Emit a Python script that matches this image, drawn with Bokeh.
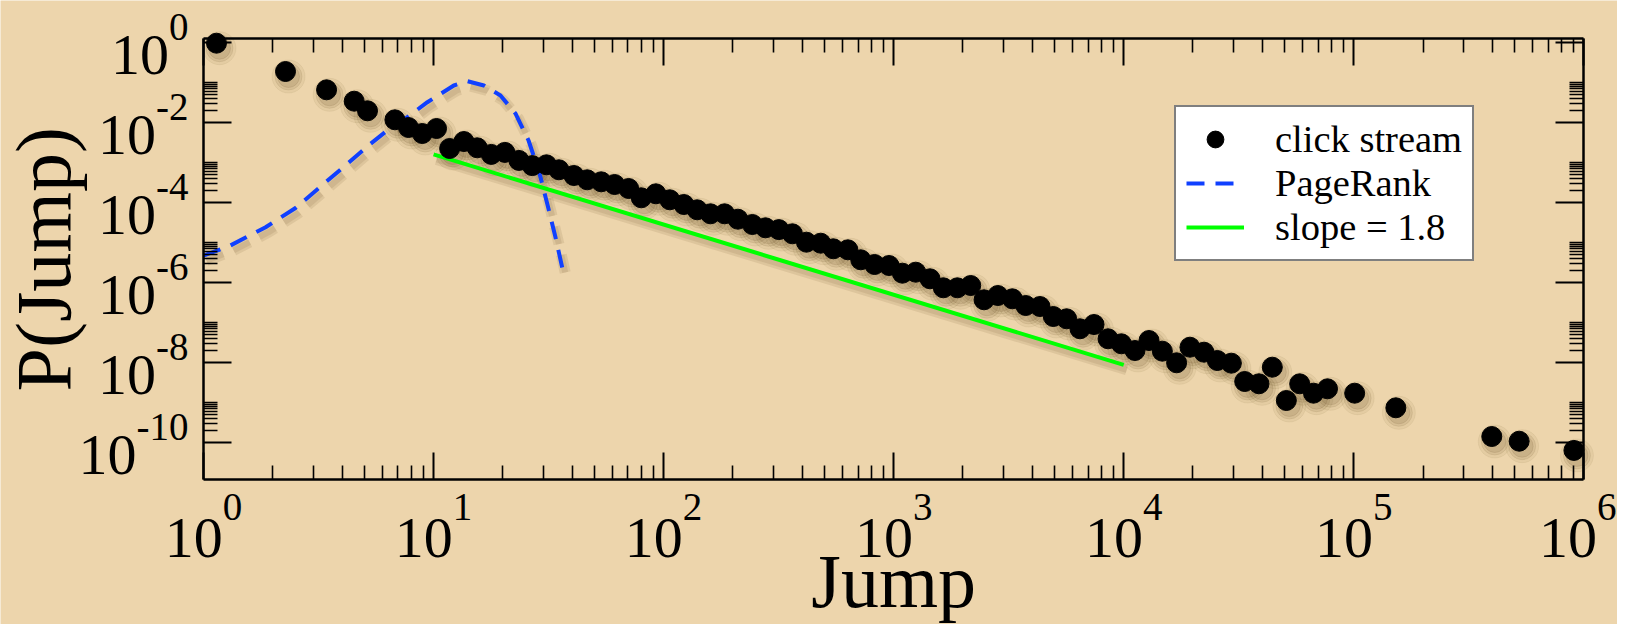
import numpy as np
from bokeh.plotting import figure
from bokeh.models import (FixedTicker, LogAxis, Label, Legend, LegendItem,
                          CustomJSTickFormatter, Range1d)
from bokeh.embed import file_html
from bokeh.resources import INLINE

# ---------------- data (log10 units) ----------------
click_log_jump = [0.0565, 0.3565, 0.535, 0.655, 0.713, 0.832, 0.891, 0.951, 1.013, 1.070,
                  1.132, 1.19, 1.251, 1.31, 1.371, 1.429, 1.491, 1.545, 1.61, 1.668,
                  1.729, 1.787, 1.848, 1.903, 1.9665, 2.027, 2.088, 2.146, 2.204, 2.265,
                  2.323, 2.386, 2.443, 2.501, 2.56, 2.621, 2.683, 2.738, 2.801, 2.857,
                  2.917, 2.98, 3.038, 3.096, 3.158, 3.216, 3.277, 3.335, 3.393, 3.453,
                  3.516, 3.574, 3.636, 3.694, 3.752, 3.81, 3.871, 3.932, 3.99, 4.049,
                  4.11, 4.168, 4.23, 4.288, 4.349, 4.407, 4.468, 4.526, 4.588, 4.646,
                  4.707, 4.765, 4.825, 4.886, 5.004, 5.183, 5.6, 5.719, 5.957]
click_log_prob = [-0.01, -0.7175, -1.175, -1.46, -1.70, -1.925, -2.1175, -2.2675, -2.1425, -2.6425,
                  -2.4675, -2.625, -2.79, -2.74, -2.94, -3.07, -3.05, -3.175, -3.3175, -3.425,
                  -3.475, -3.5425, -3.6425, -3.875, -3.775, -3.925, -4.0425, -4.175, -4.275, -4.275,
                  -4.41, -4.5425, -4.625, -4.67, -4.775, -4.985, -5.01, -5.15, -5.175, -5.425,
                  -5.5425, -5.5675, -5.76, -5.735, -5.9, -6.125, -6.125, -6.0675, -6.425, -6.3175,
                  -6.4, -6.5675, -6.5925, -6.8425, -6.9, -7.15, -7.0425, -7.4, -7.525, -7.6925,
                  -7.4425, -7.71, -8.0, -7.61, -7.735, -7.9425, -8.01, -8.4675, -8.525, -8.11,
                  -8.9425, -8.525, -8.76, -8.65, -8.76, -9.125, -9.8425, -9.96, -10.19]

pagerank_log_jump = [0.0, 0.116, 0.27, 0.40, 0.523, 0.625, 0.726, 0.799, 0.886, 0.973,
                     1.088, 1.147, 1.219, 1.291, 1.357, 1.413, 1.461, 1.498, 1.530, 1.567]
pagerank_log_prob = [-5.32, -5.07, -4.61, -4.13, -3.525, -3.025, -2.525, -2.19, -1.86, -1.485,
                     -1.0675, -0.96, -1.0675, -1.3175, -1.775, -2.4425, -3.275, -4.11, -4.86, -5.8175]

fit_jump = [10.0, 1.0e4]
fit_prob = [1.62e-3, 8.9e-9]

x_tick_exponents = [0, 1, 2, 3, 4, 5, 6]
y_tick_exponents = [0, -2, -4, -6, -8, -10]

legend_labels = ["click stream", "PageRank", "slope = 1.8"]
x_title = "Jump"
y_title = "P(Jump)"

# ---------------- styling / layout ----------------
BG = "#EDD5AC"
BLUE = "#1040FF"
GREEN = "#00FF00"
SHADOW = "#5a3d18"
DASH = "18 11"
FONT = "Liberation Serif"
BASE = 58      # "10" font size (px)
SUP = 39       # exponent font size (px)
MID = 0.3375   # label anchor sits at the middle of the text box: baseline shift in em

W, H = 1617, 624
BOX_L, BOX_R, BOX_T, BOX_B = 203.0, 1583.3, 38.3, 479.3   # plot box in pixels
XMIN_E, XMAX_E = 0.0, 6.0
YMIN_E, YMAX_E = -10.925, 0.1
XMIN, XMAX = 10 ** XMIN_E, 10 ** XMAX_E
YMIN, YMAX = 10 ** YMIN_E, 10 ** YMAX_E
xdec = (BOX_R - BOX_L) / (XMAX_E - XMIN_E)
ydec = (BOX_B - BOX_T) / (YMAX_E - YMIN_E)
x_range = Range1d(10 ** (XMIN_E - BOX_L / xdec), 10 ** (XMAX_E + (W - BOX_R) / xdec))
y_range = Range1d(10 ** (YMIN_E - (H - BOX_B) / ydec), 10 ** (YMAX_E + BOX_T / ydec))

click_jump = 10.0 ** np.array(click_log_jump)
click_prob = 10.0 ** np.array(click_log_prob)
pr_jump = 10.0 ** np.array(pagerank_log_jump)
pr_prob = 10.0 ** np.array(pagerank_log_prob)

p = figure(width=W, height=H, x_axis_type="log", y_axis_type="log",
           x_axis_location=None, y_axis_location=None,
           x_range=x_range, y_range=y_range,
           output_backend="svg", toolbar_location=None, min_border=0,
           background_fill_color=BG, border_fill_color=BG)
p.xgrid.visible = False
p.ygrid.visible = False
p.outline_line_color = None

x_major = [10.0 ** e for e in x_tick_exponents]
x_minor = [k * 10.0 ** e for e in x_tick_exponents[:-1] for k in range(2, 10)]
y_major = [10.0 ** e for e in y_tick_exponents]
y_minor = [k * 10.0 ** e for e in y_tick_exponents[1:] for k in range(2, 11)]


def make_axis(major, minor, loc, bounds, tick_in):
    ax = LogAxis(fixed_location=loc, bounds=bounds)
    ax.ticker = FixedTicker(ticks=major, minor_ticks=minor)
    ax.formatter = CustomJSTickFormatter(code="return ''")
    ax.axis_line_width = 2.5
    ax.axis_line_color = "black"
    ax.major_tick_in = tick_in
    ax.major_tick_out = 0
    ax.minor_tick_in = 14
    ax.minor_tick_out = 0
    ax.major_tick_line_width = 2
    ax.minor_tick_line_width = 1.6
    ax.major_tick_line_color = "black"
    ax.minor_tick_line_color = "black"
    ax.major_label_standoff = 0
    ax.major_label_text_font_size = "1px"
    return ax


p.add_layout(make_axis(x_major, x_minor, YMIN, (XMIN, XMAX), 27), "below")
p.add_layout(make_axis(x_major, x_minor, YMAX, (XMIN, XMAX), 27), "above")
p.add_layout(make_axis(y_major, y_minor, XMIN, (YMIN, YMAX), 28), "left")
p.add_layout(make_axis(y_major, y_minor, XMAX, (YMIN, YMAX), 28), "right")

# ---------------- soft shadows ----------------
sdx = 10 ** (3 / xdec)
sdy = 10 ** (-5 / ydec)
p.line(pr_jump * sdx, pr_prob * sdy, line_color=SHADOW, line_alpha=0.10, line_width=11,
       line_dash=DASH)
p.line(pr_jump * sdx, pr_prob * sdy, line_color=SHADOW, line_alpha=0.10, line_width=6,
       line_dash=DASH)
p.line(np.array(fit_jump) * sdx, np.array(fit_prob) * sdy, line_color=SHADOW,
       line_alpha=0.10, line_width=11)
p.line(np.array(fit_jump) * sdx, np.array(fit_prob) * sdy, line_color=SHADOW,
       line_alpha=0.10, line_width=6)
p.scatter(click_jump * sdx, click_prob * sdy, size=33, color=SHADOW, alpha=0.06)
p.scatter(click_jump * sdx, click_prob * sdy, size=27, color=SHADOW, alpha=0.09)
p.scatter(click_jump * sdx, click_prob * sdy, size=22, color=SHADOW, alpha=0.11)

# ---------------- data renderers ----------------
pr_r = p.line(pr_jump, pr_prob, line_color=BLUE, line_width=4, line_dash=DASH)
fit_r = p.line(fit_jump, fit_prob, line_color=GREEN, line_width=4)
click_r = p.scatter(click_jump, click_prob, size=20, color="black")

legend = Legend(items=[LegendItem(label=legend_labels[0], renderers=[click_r]),
                       LegendItem(label=legend_labels[1], renderers=[pr_r]),
                       LegendItem(label=legend_labels[2], renderers=[fit_r])],
                location=(1174, H - 261), padding=10, spacing=0, margin=0,
                glyph_width=58, glyph_height=42, label_height=42, label_standoff=31,
                label_text_font=FONT, label_text_font_size="38.5px",
                label_text_color="black",
                border_line_color="black", border_line_width=2,
                background_fill_color="white", background_fill_alpha=1.0)
p.add_layout(legend)


# ---------------- tick labels ----------------
def adv(s, size):
    return sum((0.333 if ch == "-" else 0.5) * size for ch in s)


def lab(x, y, text, size, xo=0.0, base_dy=0.0, align="left", **kw):
    # base_dy: wanted baseline position in px above (x, y); corrected for anchor
    p.add_layout(Label(x=x, y=y, text=text, x_offset=xo, y_offset=base_dy + MID * size,
                       text_align=align, text_baseline="alphabetic",
                       text_font=FONT, text_font_size=f"{size}px",
                       text_color="black", **kw))


for e in x_tick_exponents:
    sup = str(e)
    w = adv("10", BASE) + adv(sup, SUP)
    nudge = -6 if e == x_tick_exponents[-1] else 0
    lab(10.0 ** e, YMIN, "10", BASE, xo=-w / 2 + nudge, base_dy=-77.7)
    lab(10.0 ** e, YMIN, sup, SUP, xo=-w / 2 + adv("10", BASE) + nudge, base_dy=-40.7)

for e in y_tick_exponents:
    sup = str(e)
    sw = adv(sup, SUP)
    lab(XMIN, 10.0 ** e, sup, SUP, xo=-15, base_dy=3, align="right")
    lab(XMIN, 10.0 ** e, "10", BASE, xo=-15 - sw, base_dy=-32, align="right")

# ---------------- axis titles ----------------
x_mid = 10 ** ((XMIN_E + XMAX_E) / 2)
y_mid = 10 ** ((YMIN_E + YMAX_E) / 2)
lab(x_mid, YMIN, x_title, 76, base_dy=-126.7, align="center")
# rotated title: baseline is to the right of the glyphs
p.add_layout(Label(x=XMIN, y=y_mid, text=y_title, x_offset=-134 - MID * 78, y_offset=0,
                   angle=np.pi / 2, text_align="center", text_baseline="alphabetic",
                   text_font=FONT, text_font_size="78px", text_color="black"))

open("out.html", "w").write(file_html(p, INLINE))
